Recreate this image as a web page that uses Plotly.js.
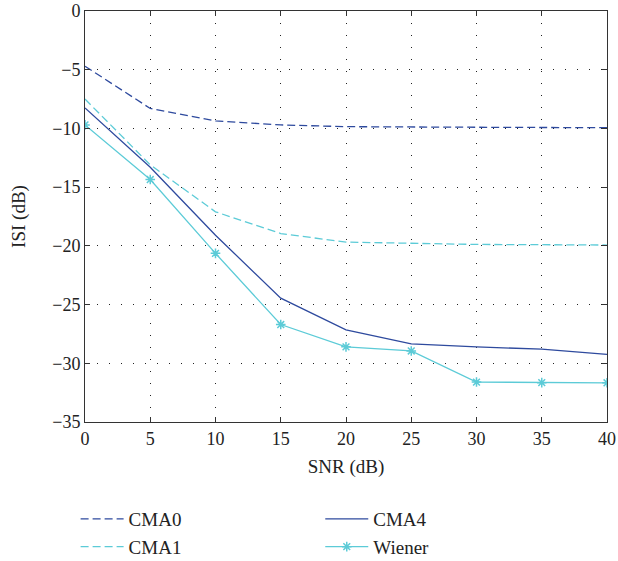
<!DOCTYPE html>
<html><head><meta charset="utf-8">
<script src="https://cdn.plot.ly/plotly-3.0.1.min.js"></script>
<style>html,body{margin:0;padding:0;background:#fff}#chart{width:618px;height:561px}</style>
</head><body><div id="chart"></div>
<script>
const snr = [0, 5, 10, 15, 20, 25, 30, 35, 40];
const cma0 = [-4.7, -8.3, -9.35, -9.7, -9.85, -9.9, -9.9, -9.92, -9.94];
const cma1 = [-7.5, -13.1, -17.1, -18.95, -19.68, -19.8, -19.88, -19.9, -19.93];
const cma4 = [-8.25, -13.3, -19.1, -24.45, -27.15, -28.35, -28.6, -28.8, -29.24];
const wiener = [-9.7, -14.35, -20.64, -26.7, -28.6, -28.95, -31.6, -31.65, -31.66];
const xTicks = [0, 5, 10, 15, 20, 25, 30, 35, 40];
const yTicks = [0, -5, -10, -15, -20, -25, -30, -35];

const darkBlue = '#2e4a9e';
const cyan = '#5ccbd7';
const dashPat = '8px,4px';

const traces = [
  {x: snr, y: cma0, name: 'CMA0', mode: 'lines', line: {color: darkBlue, width: 1.3, dash: dashPat}, legend: 'legend', legendgroup: 'a'},
  {x: snr, y: cma1, name: 'CMA1', mode: 'lines', line: {color: cyan, width: 1.3, dash: dashPat}, legend: 'legend', legendgroup: 'b'},
  {x: snr, y: cma4, name: 'CMA4', mode: 'lines', line: {color: darkBlue, width: 1.3}, legend: 'legend2', legendgroup: 'c'},
  {x: snr, y: wiener, name: 'Wiener', mode: 'lines+markers', line: {color: cyan, width: 1.3},
   marker: {symbol: 'asterisk', size: 8, color: cyan, line: {color: cyan, width: 1.5}}, legend: 'legend2', legendgroup: 'd'}
];

const fam = 'Liberation Serif, Times New Roman, serif';
const tickFont = {family: fam, size: 18, color: '#222'};
const titleFont = {family: fam, size: 19, color: '#222'};
const legFont = {family: fam, size: 19, color: '#222'};
const axisCommon = {
  showline: true, linecolor: '#333', linewidth: 1, mirror: 'ticks',
  ticks: 'inside', ticklen: 5, tickcolor: '#333', tickwidth: 1,
  showgrid: true, gridcolor: '#222', gridwidth: 1, griddash: '1px,11px',
  zeroline: false, tickfont: tickFont
};
const legendCommon = {
  orientation: 'v', bgcolor: 'rgba(0,0,0,0)', borderwidth: 0, itemwidth: 43,
  font: legFont, tracegroupgap: 0, xanchor: 'left', yanchor: 'top'
};

const layout = {
  width: 618, height: 561,
  margin: {l: 84.5, r: 11, t: 11, b: 139, autoexpand: false},
  paper_bgcolor: '#fff', plot_bgcolor: '#fff',
  font: tickFont,
  showlegend: true,
  xaxis: Object.assign({}, axisCommon, {
    range: [0, 40], tickvals: xTicks, ticktext: xTicks.map(String),
    title: {text: 'SNR (dB)', font: titleFont, standoff: 12}
  }),
  yaxis: Object.assign({}, axisCommon, {
    range: [-35, 0], tickvals: yTicks,
    title: {text: 'ISI (dB)', font: titleFont, standoff: 21}
  }),
  legend: Object.assign({}, legendCommon, {x: -0.018, y: -0.19}),
  legend2: Object.assign({}, legendCommon, {x: 0.4507, y: -0.19})
};

Plotly.newPlot('chart', traces, layout, {staticPlot: true, displayModeBar: false});
</script></body></html>
